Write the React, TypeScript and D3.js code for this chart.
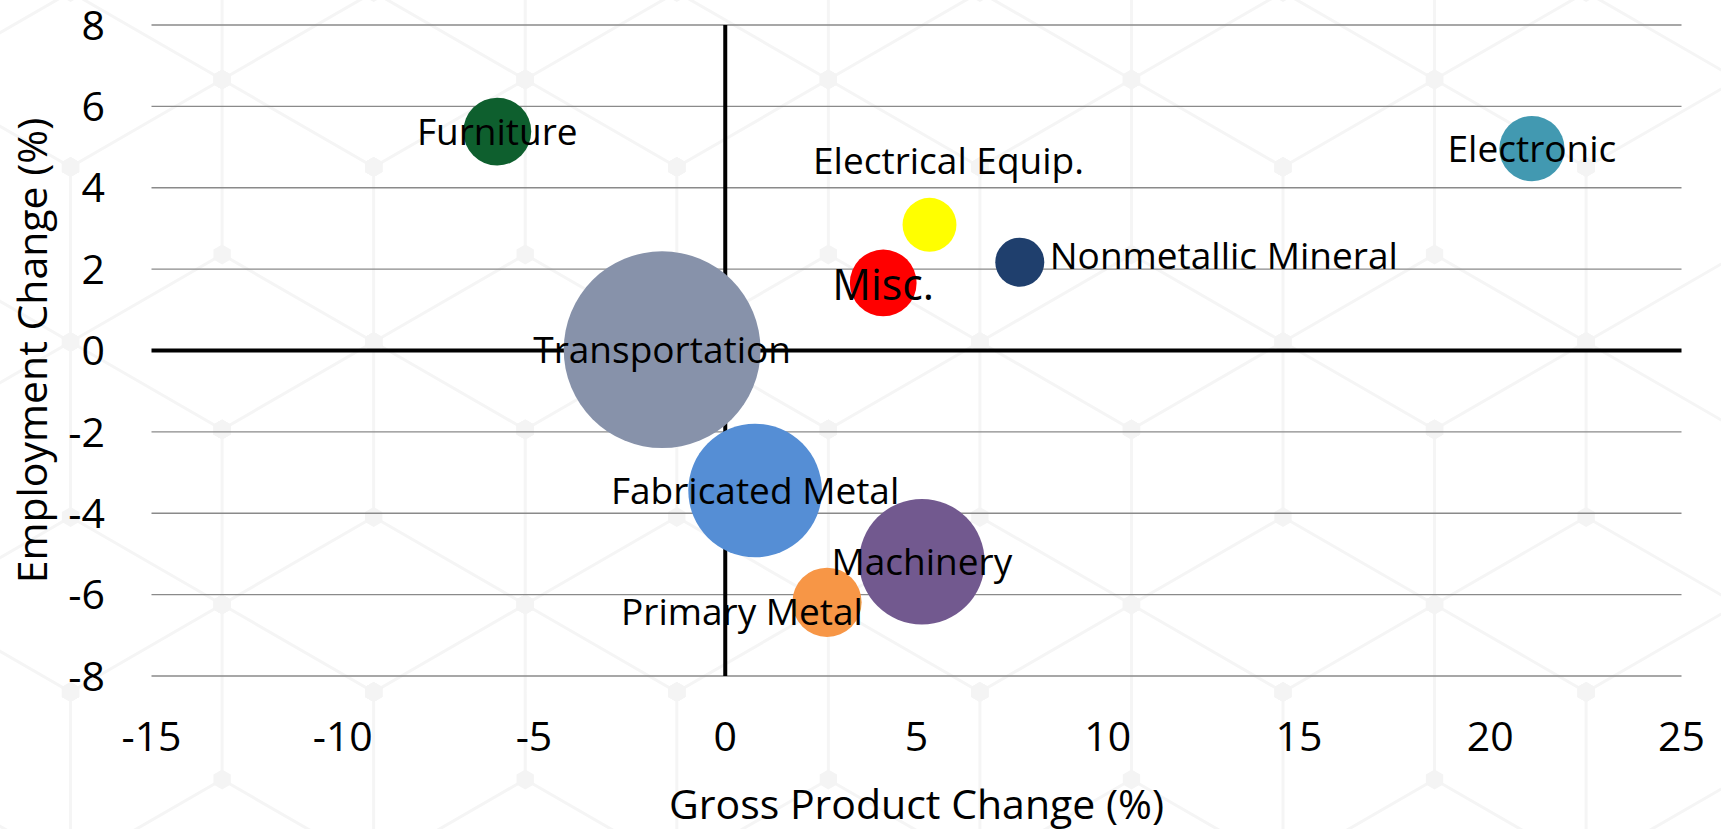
import React from 'react';
import * as d3 from 'd3';

// Industry bubbles: gross product change (x), employment change (y), bubble size
const categories = [
  'Furniture',
  'Electronic',
  'Electrical Equip.',
  'Nonmetallic Mineral',
  'Misc.',
  'Transportation',
  'Fabricated Metal',
  'Machinery',
  'Primary Metal',
];
const grossProductChange = [-5.96, 21.09, 5.34, 7.7, 4.13, -1.65, 0.78, 5.14, 2.66];
const employmentChange = [5.38, 4.96, 3.09, 2.17, 1.66, 0.02, -3.44, -5.19, -6.19];
const bubbleSize = [11.9, 11.0, 7.5, 6.2, 11.5, 100, 46.1, 40.7, 12.4];

const xTicks = [-15, -10, -5, 0, 5, 10, 15, 20, 25];
const yTicks = [-8, -6, -4, -2, 0, 2, 4, 6, 8];

const colors: Record<string, string> = {
  Furniture: '#0e5f2e',
  Electronic: '#4299b1',
  'Electrical Equip.': '#ffff00',
  'Nonmetallic Mineral': '#1f3f6d',
  'Misc.': '#ff0000',
  Transportation: '#8792aa',
  'Fabricated Metal': '#558ed5',
  Machinery: '#72598f',
  'Primary Metal': '#f79646',
};

// label placement relative to bubble centre (Excel labels moved by hand)
const labelPlace: Record<string, { dx: number; dy: number; anchor?: string; size?: number }> = {
  'Electrical Equip.': { dx: 19, dy: -64 },
  'Nonmetallic Mineral': { dx: 30, dy: -6, anchor: 'start' },
  'Misc.': { dx: 0, dy: 2, size: 43 },
  'Primary Metal': { dx: -85, dy: 9 },
};

const W = 1721;
const H = 829;
const FONT = "'Open Sans', sans-serif";

function HexBackground() {
  const s = 175;
  const hw = s * Math.sqrt(3);
  const rowH = s * 1.5;
  const ox = 1283;
  const oy = 517;
  const lines: string[] = [];
  const dots: [number, number][] = [];
  for (let j = -3; j <= 3; j++) {
    const cy = oy + j * rowH;
    const shift = Math.abs(j) % 2 === 1 ? hw / 2 : 0;
    for (let i = -6; i <= 3; i++) {
      const cx = ox + i * hw + shift;
      const v = d3.range(6).map((k) => {
        const a = ((-90 + k * 60) * Math.PI) / 180;
        return [cx + s * Math.cos(a), cy + s * Math.sin(a)] as [number, number];
      });
      lines.push('M' + v.map((p) => p.join(',')).join('L') + 'Z');
      // inner Y: centre to top, lower-right, lower-left
      lines.push(`M${cx},${cy}L${v[0].join(',')}`);
      lines.push(`M${cx},${cy}L${v[2].join(',')}`);
      lines.push(`M${cx},${cy}L${v[4].join(',')}`);
      dots.push([cx, cy], ...v);
    }
  }
  const dotPath = (x: number, y: number) =>
    'M' +
    d3
      .range(6)
      .map((k) => {
        const a = ((-90 + k * 60) * Math.PI) / 180;
        return `${x + 10 * Math.cos(a)},${y + 10 * Math.sin(a)}`;
      })
      .join('L') +
    'Z';
  return (
    <g>
      <path d={lines.join('')} fill="none" stroke="#f5f5f5" strokeWidth={3} />
      {dots.map(([x, y], i) => (
        <path key={i} d={dotPath(x, y)} fill="#f4f4f4" />
      ))}
    </g>
  );
}

export default function App() {
  const x = d3.scaleLinear().domain([-15, 25]).range([151.5, 1681.5]);
  const y = d3.scaleLinear().domain([-8, 8]).range([676, 25]);
  const r = d3.scaleSqrt().domain([0, 100]).range([0, 98.4]);

  const data = categories.map((c, i) => ({
    name: c,
    gx: grossProductChange[i],
    ey: employmentChange[i],
    size: bubbleSize[i],
  }));

  return (
    <svg
      width={W}
      height={H}
      style={{ position: 'absolute', left: 0, top: 0, background: '#ffffff' }}
      fontFamily={FONT}
    >
      <rect width={W} height={H} fill="#ffffff" />
      <HexBackground />

      {/* grid */}
      {yTicks
        .filter((t) => t !== 0)
        .map((t) => (
          <line
            key={t}
            x1={x(-15)}
            x2={x(25)}
            y1={y(t)}
            y2={y(t)}
            stroke="#8a8a8a"
            strokeWidth={1.4}
          />
        ))}

      {/* zero axes */}
      <line x1={x(0)} x2={x(0)} y1={y(8)} y2={y(-8)} stroke="#000" strokeWidth={4} />
      <line x1={x(-15)} x2={x(25)} y1={y(0)} y2={y(0)} stroke="#000" strokeWidth={4} />

      {/* bubbles */}
      {data.map((d) => (
        <circle key={d.name} cx={x(d.gx)} cy={y(d.ey)} r={r(d.size)} fill={colors[d.name]} />
      ))}

      {/* labels */}
      {data.map((d) => {
        const p = labelPlace[d.name] || { dx: 0, dy: 0 };
        return (
          <text
            key={d.name}
            x={x(d.gx) + p.dx}
            y={y(d.ey) + p.dy}
            dy="0.357em"
            textAnchor={p.anchor || 'middle'}
            fontSize={p.size || 37}
            fill="#000"
          >
            {d.name}
          </text>
        );
      })}

      {/* y tick labels */}
      {yTicks.map((t) => (
        <text key={t} x={105} y={y(t)} dy="0.357em" textAnchor="end" fontSize={41} fill="#000">
          {t}
        </text>
      ))}

      {/* x tick labels */}
      {xTicks.map((t) => (
        <text key={t} x={x(t)} y={751} textAnchor="middle" fontSize={41} fill="#000">
          {t}
        </text>
      ))}

      <text x={(x(-15) + x(25)) / 2} y={819} textAnchor="middle" fontSize={41} fill="#000">
        Gross Product Change (%)
      </text>
      <text
        transform={`translate(47,${(y(8) + y(-8)) / 2}) rotate(-90)`}
        textAnchor="middle"
        fontSize={41}
        fill="#000"
      >
        Employment Change (%)
      </text>
    </svg>
  );
}
